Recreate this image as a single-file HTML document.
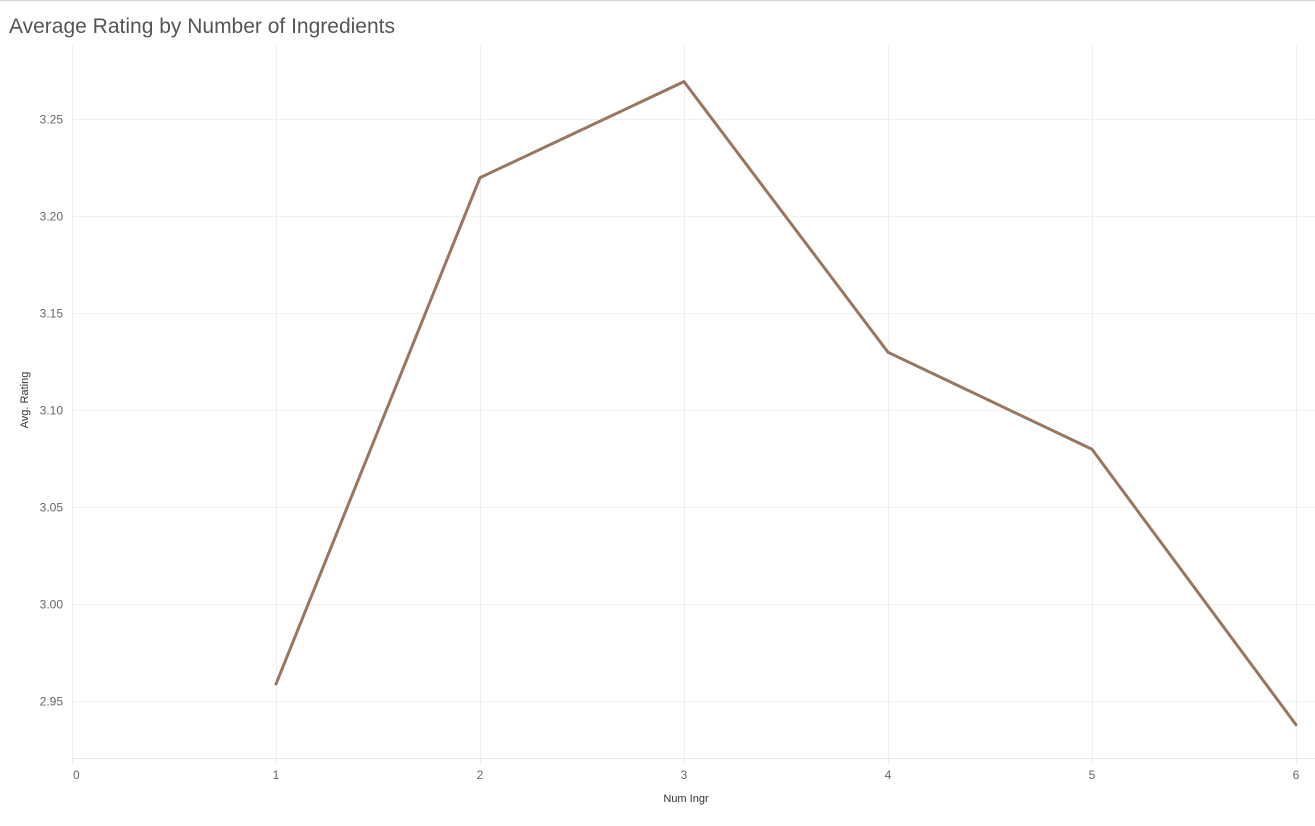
<!DOCTYPE html>
<html><head><meta charset="utf-8"><style>
body{margin:0;background:#fff;width:1315px;height:821px;overflow:hidden;font-family:"Liberation Sans",sans-serif}
</style></head><body>
<svg width="1315" height="821">
<line x1="0" y1="0.5" x2="1315" y2="0.5" stroke="#d4d4d4"/>
<text x="9" y="33" font-size="21" fill="#555">Average Rating by Number of Ingredients</text>
<g id="grid"></g><g id="axes"></g><g id="series"></g>
<text transform="translate(28,400) rotate(-90)" text-anchor="middle" font-size="11" fill="#333">Avg. Rating</text>
<text x="686" y="802" text-anchor="middle" font-size="11" fill="#333">Num Ingr</text>
</svg>
<script>
const categories=[1,2,3,4,5,6];
const ratings=[2.9585,3.2195,3.269,3.1295,3.0795,2.9375];
const xTicks=[0,1,2,3,4,5,6];
const yTicks=[2.95,3.00,3.05,3.10,3.15,3.20,3.25];
const NS="http://www.w3.org/2000/svg";
const xs=v=>72+v*204;
const ys=v=>700.5-(v-2.95)*1940;
const grid=document.getElementById('grid'),axes=document.getElementById('axes'),ser=document.getElementById('series');
function mk(t,a,p){const e=document.createElementNS(NS,t);for(const k in a)e.setAttribute(k,a[k]);p.appendChild(e);return e;}
yTicks.forEach(v=>{
 const y=Math.round(ys(v))+0.5;
 const l=mk('line',{x1:72,x2:1315,y1:y,y2:y,stroke:'#f0f0f0'},grid);
 
 
 const t=mk('text',{x:63,y:y+4,'text-anchor':'end','font-size':12,fill:'#666'},axes);
 t.textContent=v.toFixed(2);
 
 
});
xTicks.forEach(v=>{
 const x=xs(v)+0.5;
 const l=mk('line',{x1:x,x2:x,y1:45,y2:764,stroke:'#f0f0f0'},grid);
 
 
 const t=mk('text',{x:v===0?xs(v)+1:xs(v),y:779,'text-anchor':v===0?'start':'middle','font-size':12,fill:'#666'},axes);
 t.textContent=v;
 
 
});
const base=mk('line',{x1:72,x2:1315,y1:758.5,y2:758.5,stroke:'#e8e8e8'},axes);


const pts=categories.map((c,i)=>xs(c)+','+ys(ratings[i])).join(' ');
const pl=mk('polyline',{points:pts,fill:'none',stroke:'#9a7560','stroke-width':3,'stroke-linejoin':'round','stroke-linecap':'round'},ser);


</script>
</body></html>
